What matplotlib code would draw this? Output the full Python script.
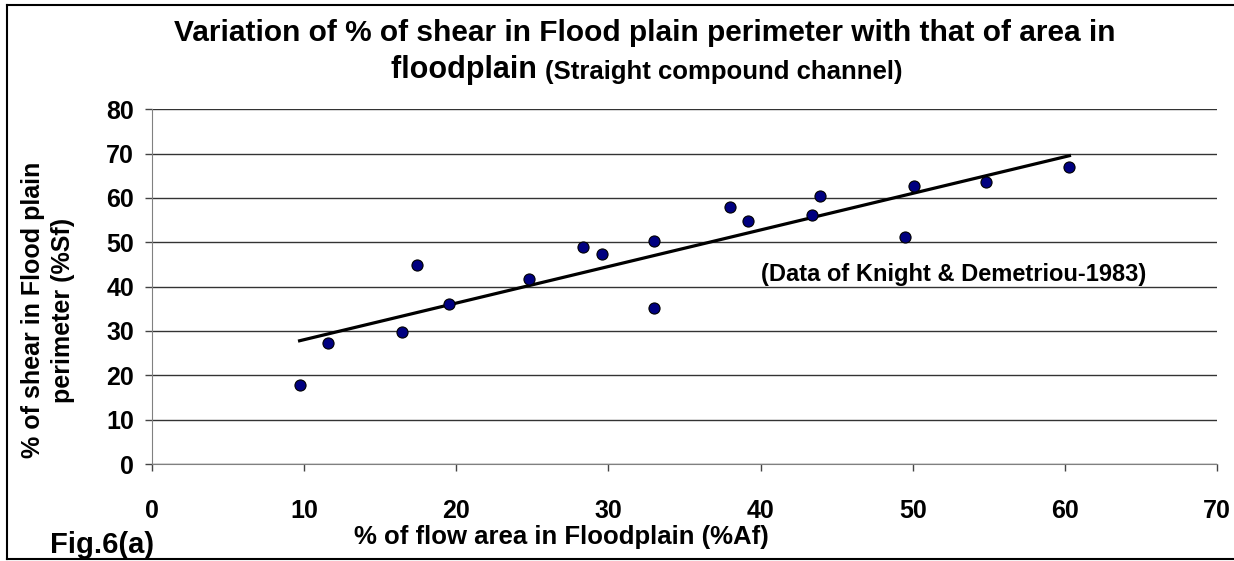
import numpy as np
import matplotlib
matplotlib.use("Agg")
import matplotlib.pyplot as plt
from matplotlib.lines import Line2D

# % of flow area in floodplain vs % of shear in floodplain perimeter
area_pct = [9.7, 11.6, 16.4, 17.4, 19.5, 24.8, 28.3, 29.6, 33.0, 33.0,
            38.0, 39.2, 43.4, 43.9, 49.5, 50.1, 54.8, 60.3]
shear_pct = [17.8, 27.2, 29.8, 44.9, 36.0, 41.7, 48.9, 47.3, 50.4, 35.2,
             57.9, 54.8, 56.2, 60.5, 51.2, 62.8, 63.7, 67.0]

x_ticks = [0, 10, 20, 30, 40, 50, 60, 70]
y_ticks = [0, 10, 20, 30, 40, 50, 60, 70, 80]

plt.rcParams['font.family'] = ['Liberation Sans', 'DejaVu Sans']
plt.rcParams['font.weight'] = 'bold'

fig = plt.figure(figsize=(12.34, 5.61), dpi=100)
ax = fig.add_axes([152 / 1234, 1 - 464 / 561, (1217 - 152) / 1234, (464 - 109.3) / 561])

ax.set_xlim(0, 70)
ax.set_ylim(0, 80)
ax.set_xticks(x_ticks)
ax.set_yticks(y_ticks)
ax.tick_params(axis='both', labelsize=18, direction='out', length=5, width=1, color='#444444')
ax.tick_params(axis='x', pad=20)
ax.tick_params(axis='y', pad=8)
for lab in ax.get_xticklabels() + ax.get_yticklabels():
    lab.set_fontweight('bold')

ax.grid(axis='y', color='#333333', linewidth=1)
ax.set_axisbelow(True)
for s in ['top', 'right']:
    ax.spines[s].set_visible(False)
ax.spines['left'].set_color('#808080')
ax.spines['bottom'].set_color('#808080')

# linear trendline (least squares)
slope, intercept = np.polyfit(area_pct, shear_pct, 1)
xt = np.array([min(area_pct), max(area_pct)])
ax.plot(xt, slope * xt + intercept, color='black', linewidth=2.3, zorder=3)

ax.plot(area_pct, shear_pct, 'o', color='#000080', markeredgecolor='black',
        markeredgewidth=0.8, markersize=8, zorder=4, clip_on=False)

ax.text(40, 42.7, '(Data of Knight & Demetriou-1983)', fontsize=17, fontweight='bold',
        va='center', ha='left')

# title in two lines, second line with a smaller part
fig.text(645 / 1234, 1 - 33 / 561,
         'Variation of % of shear in Flood plain perimeter with that of area in',
         ha='center', va='center', fontsize=21.5, fontweight='bold')
t1 = fig.text(0, 1 - 70 / 561, 'floodplain ', ha='left', va='center',
              fontsize=22, fontweight='bold')
t2 = fig.text(0, 1 - 72 / 561, '(Straight compound channel)', ha='left', va='center',
              fontsize=18.5, fontweight='bold')
r = fig.canvas.get_renderer()
w1 = t1.get_window_extent(r).width
w2 = t2.get_window_extent(r).width
x0 = 647 - (w1 + w2) / 2
t1.set_x(x0 / 1234)
t2.set_x((x0 + w1) / 1234)

fig.text(561 / 1234, 1 - 537 / 561, '% of flow area in Floodplain (%Af)',
         ha='center', va='center', fontsize=18.5, fontweight='bold')
fig.text(48 / 1234, 1 - 310 / 561, '% of shear in Flood plain\nperimeter (%Sf)',
         ha='center', va='center', rotation=90, fontsize=18, fontweight='bold',
         multialignment='center', linespacing=1.3)
fig.text(50 / 1234, 1 - 545 / 561, 'Fig.6(a)', ha='left', va='center',
         fontsize=21, fontweight='bold')

# frame around the figure (top, left, bottom)
fig.add_artist(Line2D([7 / 1234, 1], [1 - 5 / 561, 1 - 5 / 561], transform=fig.transFigure,
                      color='black', linewidth=1.5))
fig.add_artist(Line2D([7 / 1234, 7 / 1234], [1 - 5 / 561, 1 - 559 / 561], transform=fig.transFigure,
                      color='black', linewidth=1.5))
fig.add_artist(Line2D([7 / 1234, 1], [1 - 559 / 561, 1 - 559 / 561], transform=fig.transFigure,
                      color='black', linewidth=1.5))

fig.savefig('out.png', dpi=100, facecolor='white')
